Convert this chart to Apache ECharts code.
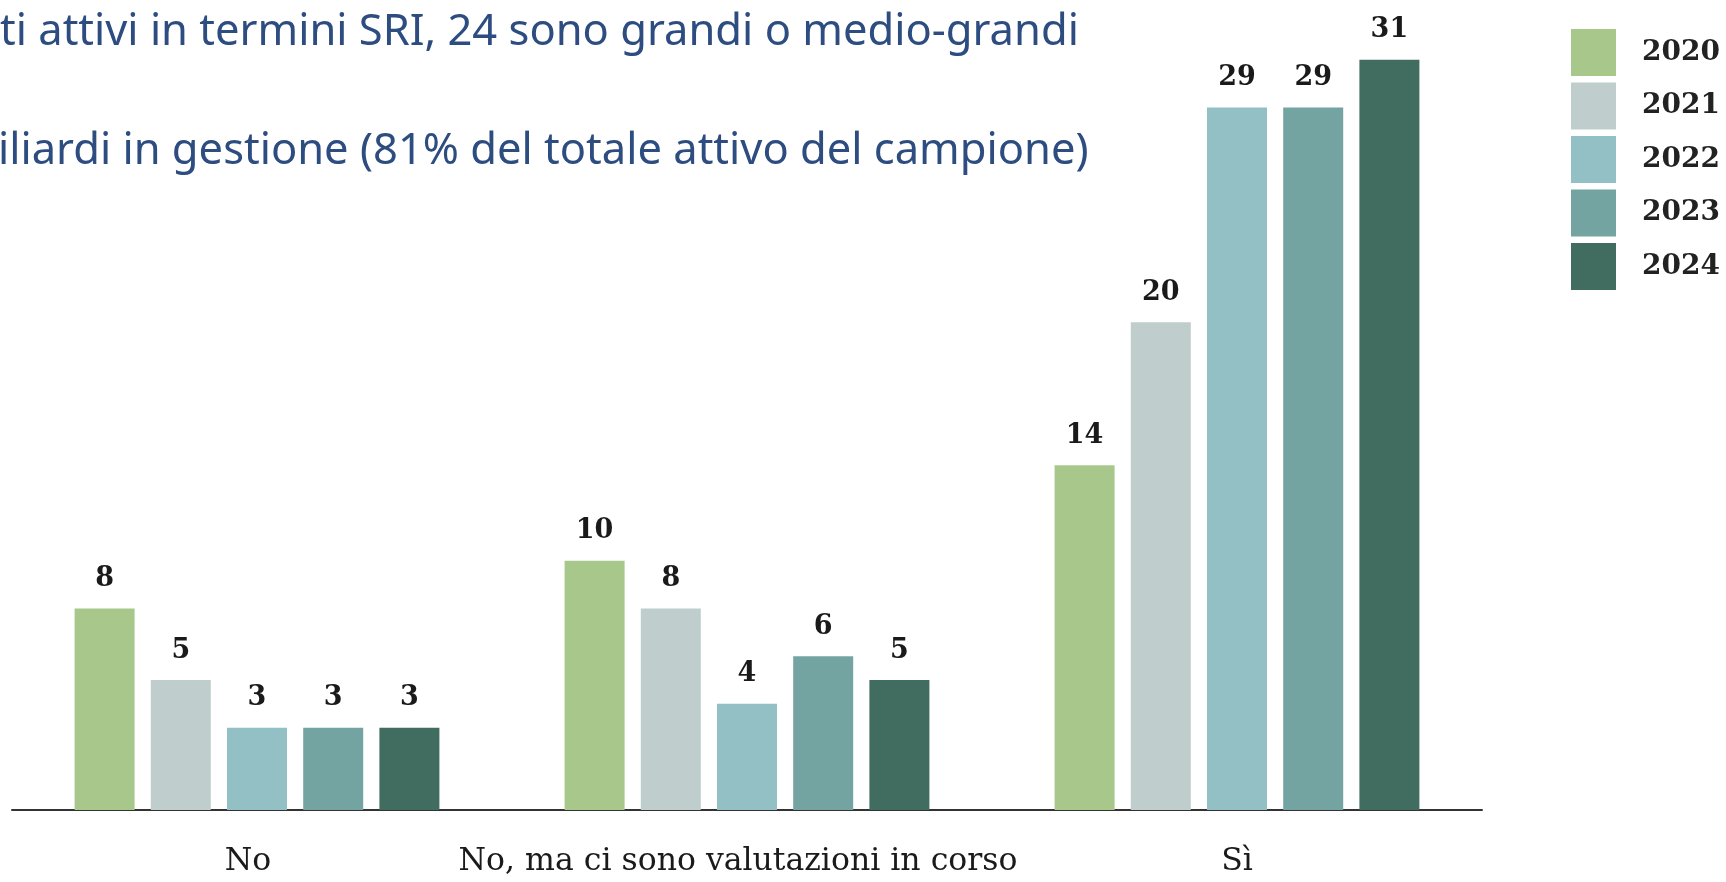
<!DOCTYPE html>
<html>
<head>
<meta charset="utf-8">
<script src="https://cdn.jsdelivr.net/npm/echarts@6/dist/echarts.min.js"></script>
<style>
html, body { margin: 0; padding: 0; background: #fff; }
#chart { width: 1726px; height: 882px; }
</style>
</head>
<body>
<div id="chart"></div>
<script>
// risposte (categorie asse x)
var categories = ['No', 'No, ma ci sono valutazioni in corso', 'Sì']
var years = ['2020', '2021', '2022', '2023', '2024']
// valori per anno, nell'ordine delle categorie
var v2020 = [8, 10, 14]
var v2021 = [5, 8, 20]
var v2022 = [3, 4, 29]
var v2023 = [3, 6, 29]
var v2024 = [3, 5, 31]
var colors = ['#a8c88b', '#bfcdcd', '#92c0c5', '#74a4a2', '#416d61']
var headLines = [
    'ti attivi in termini SRI, 24 sono grandi o medio-grandi',
    'iliardi in gestione (81% del totale attivo del campione)'
]

var serif = 'DejaVu Serif'
var values = [v2020, v2021, v2022, v2023, v2024]
var series = []
values.forEach(function (item, index) {
    series.push({
        name: years[index],
        type: 'bar',
        data: item,
        barWidth: 60,
        barGap: '27%',
        itemStyle: { color: colors[index] },
        label: {
            show: true,
            position: 'top',
            distance: 16,
            fontFamily: serif,
            fontWeight: 'bold',
            fontSize: 27,
            color: '#1a1a1a'
        }
    })
})

var headStyle = { fontFamily: 'Noto Sans', fontSize: 43.5, fontWeight: 'normal', color: '#2d4c80' }
var option = {
    animation: false,
    color: colors,
    title: [
        { text: headLines[0], left: 0, top: 11, padding: 0, textStyle: headStyle },
        { text: headLines[1], left: -2, top: 130, padding: 0, textStyle: headStyle }
    ],
    legend: {
        orient: 'vertical',
        left: 1571,
        top: 29,
        padding: 0,
        icon: 'rect',
        itemWidth: 45,
        itemHeight: 47,
        itemGap: 6.5,
        data: years,
        textStyle: {
            fontFamily: serif,
            fontWeight: 'bold',
            fontSize: 28,
            color: '#222',
            padding: [0, 0, 0, 21]
        }
    },
    grid: {
        left: 12,
        right: 244,
        top: 36,
        bottom: 72
    },
    xAxis: {
        type: 'category',
        data: categories,
        axisLine: { onZero: false, lineStyle: { color: '#333', width: 2 } },
        axisTick: { show: false },
        axisLabel: {
            interval: 0,
            margin: 36,
            fontFamily: serif,
            fontSize: 31.5,
            color: '#1a1a1a',
            formatter: function (value, index) {
                // le prime due etichette sono leggermente spostate a sinistra
                return index < 2 ? '{s|' + value + '}' : value
            },
            rich: {
                s: { fontFamily: serif, fontSize: 31.5, color: '#1a1a1a', padding: [0, 18, 0, 0] }
            }
        }
    },
    yAxis: {
        type: 'value',
        min: -0.45,
        max: 32,
        startValue: -0.45,
        show: false,
        splitLine: { show: false }
    },
    series: series
}

echarts.init(document.getElementById('chart')).setOption(option)
</script>
</body>
</html>
